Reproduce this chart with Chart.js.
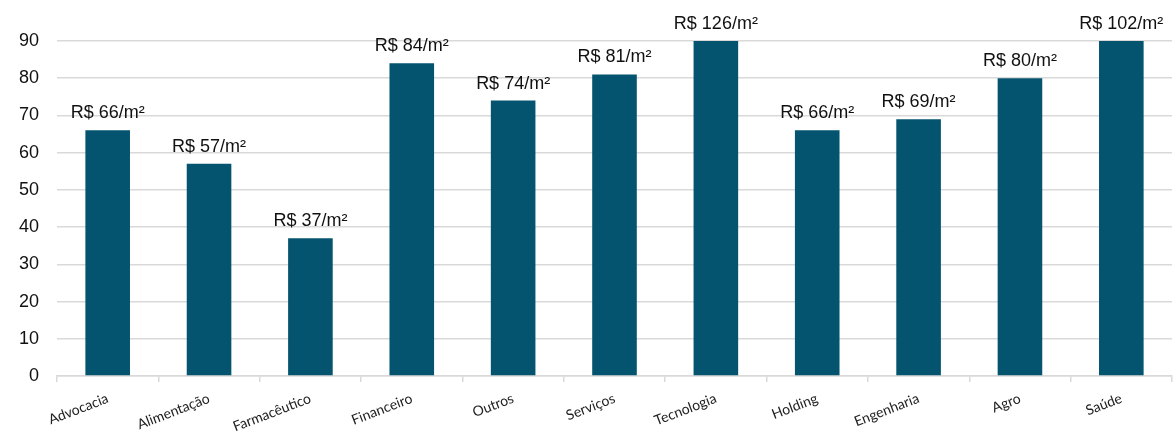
<!DOCTYPE html>
<html>
<head>
<meta charset="utf-8">
<script src="https://cdn.jsdelivr.net/npm/chart.js@4/dist/chart.umd.min.js"></script>
<style>
  html, body { margin: 0; padding: 0; background: #fff; }
  #wrap { width: 1175px; height: 432px; }
</style>
</head>
<body>
<div id="wrap"><canvas id="precoCanvas"></canvas></div>
<script>
// setores e preço médio por m²
const setores = ['Advocacia', 'Alimentação', 'Farmacêutico', 'Financeiro', 'Outros', 'Serviços',
                 'Tecnologia', 'Holding', 'Engenharia', 'Agro', 'Saúde'];
const precoM2 = [66, 57, 37, 84, 74, 81, 126, 66, 69, 80, 102];
const yTicks = [0, 10, 20, 30, 40, 50, 60, 70, 80, 90];

const BAR_COLOR = '#04546F';
const GRID_COLOR = '#d9d9d9';

// writes "R$ xx/m²" above each bar; bars taller than the axis get the label at the top edge
const rotulos = {
    id: 'rotulos',
    afterDatasetsDraw(chart) {
        const ctx = chart.ctx;
        const area = chart.chartArea;
        const meta = chart.getDatasetMeta(0);
        ctx.save();
        ctx.font = '18px "Liberation Sans", Arial, sans-serif';
        ctx.fillStyle = '#111';
        ctx.textAlign = 'center';
        ctx.textBaseline = 'bottom';
        meta.data.forEach((bar, i) => {
            const topo = Math.max(bar.y, area.top);
            ctx.fillText('R$ ' + precoM2[i] + '/m²', bar.x, topo - 8);
        });
        ctx.restore();
    }
};

document.addEventListener('DOMContentLoaded', function() {
    const ctx = document.getElementById('precoCanvas').getContext('2d');
    new Chart(ctx, {
        type: 'bar',
        data: {
            labels: setores,
            datasets: [{
                label: 'Preço médio',
                data: precoM2,
                backgroundColor: BAR_COLOR,
                categoryPercentage: 1,
                barPercentage: 0.44
            }]
        },
        plugins: [rotulos],
        options: {
            responsive: true,
            maintainAspectRatio: false,
            animation: false,
            layout: { padding: { top: 41, right: 3, left: 0, bottom: 0 } },
            plugins: {
                legend: { display: false },
                tooltip: { enabled: false }
            },
            scales: {
                x: {
                    offset: true,
                    border: { display: true, color: GRID_COLOR, width: 1.5 },
                    grid: {
                        offset: true,
                        drawOnChartArea: false,
                        drawTicks: true,
                        tickLength: 6,
                        color: GRID_COLOR,
                        lineWidth: 1.5
                    },
                    ticks: {
                        minRotation: 21,
                        maxRotation: 21,
                        padding: 8,
                        color: '#222',
                        font: { family: 'Lato, "Open Sans", sans-serif', size: 14 }
                    },
                    afterFit(scale) { scale.height = 56; }
                },
                y: {
                    min: 0,
                    max: 90,
                    afterBuildTicks(scale) { scale.ticks = yTicks.map(v => ({ value: v })); },
                    border: { display: false },
                    grid: { color: GRID_COLOR, lineWidth: 1.5, drawTicks: false },
                    ticks: {
                        padding: 18,
                        color: '#111',
                        font: { family: '"Liberation Sans", Arial, sans-serif', size: 18 }
                    },
                    afterFit(scale) { scale.width = 57; }
                }
            }
        }
    });
});
</script>
</body>
</html>
